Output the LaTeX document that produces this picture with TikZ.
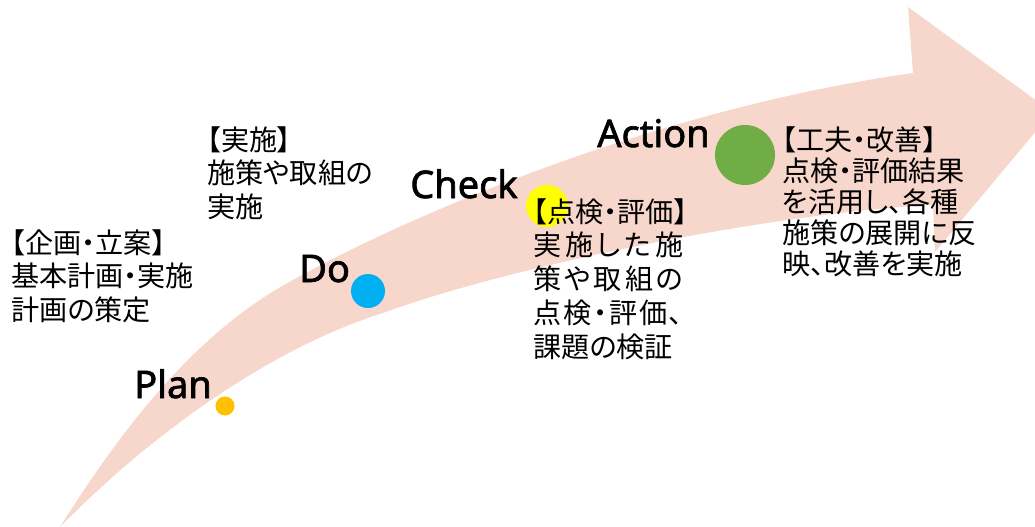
\documentclass[tikz,border=0pt]{standalone}
\usepackage{fontspec}
\usepackage{tikz}
\newfontfamily\jpfont{Noto Sans CJK JP}[RawFeature=+palt]
\newfontfamily\stagefont{Noto Sans}[FakeBold=1.8]
\definecolor{arrowpink}{HTML}{F7D6CC}
\definecolor{planorange}{HTML}{FFC000}
\definecolor{doblue}{HTML}{00B0F0}
\definecolor{checkyellow}{HTML}{FFFF00}
\definecolor{actiongreen}{HTML}{70AD47}
\tikzset{
	stagedot/.style={circle, inner sep=0pt, draw=none},
	stagename/.style={anchor=base west, inner sep=0pt, font=\stagefont\fontsize{27}{32}\selectfont},
	stagenote/.style={anchor=north west, inner sep=0pt, align=left, font=\jpfont\fontsize{20}{24}\selectfont}
}

\begin{document}
\begin{tikzpicture}[x=0.025cm, y=-0.025cm]
				\useasboundingbox (0,0) rectangle (1035,527);
				\clip (0,0) rectangle (1035,527);
				% the big curved arrow
				\fill [arrowpink] (60,527) .. controls (115,440) and (190,335) .. (293,280)
					.. controls (400,220) and (650,110) .. (913,73)
					-- (908,7) -- (1052,112) -- (935,252) -- (933,205)
					.. controls (780,212) and (513,265) .. (383,313)
					.. controls (280,345) and (160,425) .. (60,527) -- cycle;
				% dots
				\node [stagedot, fill=planorange, minimum size=0.475cm] (plandot) at (225,406) {};
				\node [stagedot, fill=doblue, minimum size=0.85cm] (dodot) at (368,291) {};
				\node [stagedot, fill=checkyellow, minimum size=1.05cm] (checkdot) at (547,206) {};
				\node [stagedot, fill=actiongreen, minimum size=1.5cm] (actiondot) at (745,155) {};
				% stage names
				\node [stagename] (planname) at (134,398) {Plan};
				\node [stagename] (doname) at (299,282) {Do};
				\node [stagename] (checkname) at (410,198) {Check};
				\node [stagename] (actionname) at (597,147) {Action};
				% notes
				\node [stagenote] (plannote) at (11,229) {【企画・立案】\\基本計画・実施\\計画の策定};
				\node [stagenote] (donote) at (207,126) {【実施】\\施策や取組の\\実施};
				\node [stagenote] (checknote) at (533,198) {【点検・評価】\\
					\makebox[3.75cm][s]{実\hfill 施\hfill し\hfill た\hfill 施}\\
					\makebox[3.75cm][s]{策\hfill や\hfill 取\hfill 組\hfill の}\\
					\makebox[3.75cm][s]{点\hfill 検\hfill ・\hfill 評\hfill 価\hfill 、}\\
					課題の検証};
				\node [stagenote, font=\jpfont\fontsize{20}{22.2}\selectfont] (actionnote) at (782,126) {【工夫・改善】\\点検・評価結果\\を活用し、各種\\施策の展開に反\\映、改善を実施};
\end{tikzpicture}
\end{document}
